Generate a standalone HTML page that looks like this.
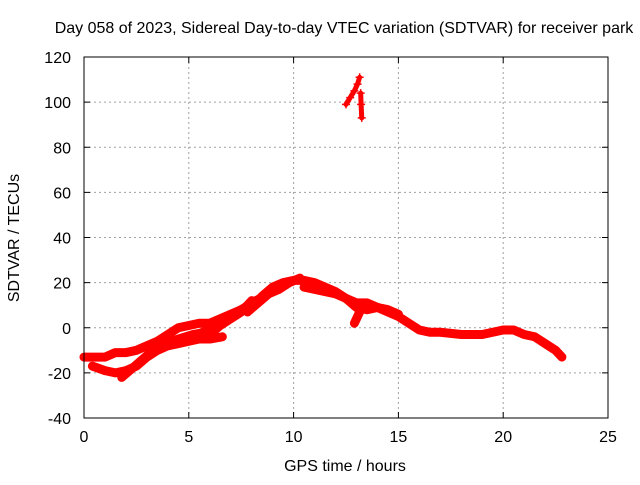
<!DOCTYPE html>
<html><head><meta charset="utf-8"><style>
body{margin:0;background:#fff;width:640px;height:480px;overflow:hidden}
text{font-family:"Liberation Sans",sans-serif;font-size:16px;fill:#000}
</style></head><body>
<svg id="chart" width="640" height="480">
<text x="344" y="33" text-anchor="middle">Day 058 of 2023, Sidereal Day-to-day VTEC variation (SDTVAR) for receiver park</text>
<g id="grid"></g>
<g id="ticks"></g>
<g id="series"></g>
<rect x="84" y="57" width="524" height="361" fill="none" stroke="#000" stroke-width="1"/>
<text x="345" y="471" text-anchor="middle">GPS time / hours</text>
<text transform="translate(19,238) rotate(-90)" text-anchor="middle">SDTVAR / TECUs</text>
</svg>
<script>
const xTicks=[0,5,10,15,20,25];
const yTicks=[-40,-20,0,20,40,60,80,100,120];
const track1=[[0,-13],[0.5,-13],[1,-13],[1.5,-11],[2,-11],[2.5,-10],[3,-8],[3.5,-6],[4,-3],[4.5,0],[5,1],[5.5,2],[6,2],[6.5,4],[7,6],[7.5,8],[8,9],[8.5,14],[9,18],[9.5,20],[10,21],[10.5,21],[11,20],[11.5,18],[12,16],[12.5,13],[13,9],[13.5,8],[14,9],[14.5,7],[15,5],[15.5,2],[16,-1],[16.5,-2],[17,-2],[18,-3],[19,-3],[19.5,-2],[20,-1],[20.5,-1],[21,-3],[21.5,-4],[22,-7],[22.5,-10],[22.8,-13]];
const track2=[[0.4,-17],[1,-19],[1.5,-20],[2,-19],[2.5,-17],[3,-13],[3.5,-10],[4,-8],[4.5,-7],[5,-6],[5.5,-5],[6,-5],[6.6,-4]];
const track3=[[1.8,-22],[2.3,-18],[2.8,-14],[3.3,-10],[3.8,-7],[4.5,-5],[5.2,-3],[5.8,-2]];
const track4=[[4.8,-6],[5.5,-3],[6.2,1],[6.8,4],[7.5,8],[8.2,12],[8.6,14]];
const track5=[[6,-3],[6.5,1],[7,4],[7.5,7],[8,12]];
const track6=[[7.8,7],[8.3,11],[8.8,15],[9.3,17],[9.8,20],[10.3,22]];
const track7=[[10.5,18],[11,17],[11.5,16],[12,15],[12.5,13],[13,11],[13.5,11],[14,9],[14.5,8],[15,6]];
const track8=[[12.9,2],[13.1,6],[13.3,10]];
const track9=[[12.5,99],[12.7,102],[12.9,105],[13.05,108],[13.15,111]];
const track10=[[13.2,104],[13.22,99],[13.25,93]];
const tracks=[track1,track2,track3,track4,track5,track6,track7,track8,track9,track10];
const X0=84,X1=608,Y0=418,Y1=57;
const sx=v=>X0+(v-0)/(25-0)*(X1-X0);
const sy=v=>Y0-(v+40)/(160)*(Y0-Y1);
const NS='http://www.w3.org/2000/svg';
const grid=document.getElementById('grid'),ticks=document.getElementById('ticks'),ser=document.getElementById('series');
function mk(t,a,p){const e=document.createElementNS(NS,t);for(const k in a)e.setAttribute(k,a[k]);p.appendChild(e);return e;}
xTicks.forEach(t=>{const x=sx(t);
 if(t>0&&t<25){const g=mk('line',{x1:x,x2:x,y1:Y1,y2:Y0,stroke:'#a0a0a0','stroke-dasharray':'2,3'},grid);
 
 }
 mk('line',{x1:x,x2:x,y1:Y0,y2:Y0-6,stroke:'#000'},ticks);mk('line',{x1:x,x2:x,y1:Y1,y2:Y1+6,stroke:'#000'},ticks);
 const l=mk('text',{x:x,y:Y0+24,'text-anchor':'middle'},ticks);l.textContent=t;
 
 });
yTicks.forEach(t=>{const y=sy(t);
 if(t>-40&&t<120){const g=mk('line',{x1:X0,x2:X1,y1:y,y2:y,stroke:'#a0a0a0','stroke-dasharray':'2,3'},grid);
 
 }
 mk('line',{x1:X0,x2:X0+6,y1:y,y2:y,stroke:'#000'},ticks);mk('line',{x1:X1,x2:X1-6,y1:y,y2:y,stroke:'#000'},ticks);
 const l=mk('text',{x:X0-13,y:y+6,'text-anchor':'end'},ticks);l.textContent=t;
 
 });
tracks.forEach((tr,i)=>{
 const p=mk('polyline',{points:tr.map(d=>sx(d[0])+','+sy(d[1])).join(' '),fill:'none',stroke:'#ff0000','stroke-width':(i>=8?5:9),'stroke-linejoin':'round','stroke-linecap':'round'},ser);
 
 
 tr.forEach(d=>{const x=sx(d[0]),y=sy(d[1]);
  const m=mk('path',{d:`M${x-4},${y}h8M${x},${y-4}v8`,stroke:'#ff0000','stroke-width':1.5},ser);
  
  });
});
</script>
</body></html>
